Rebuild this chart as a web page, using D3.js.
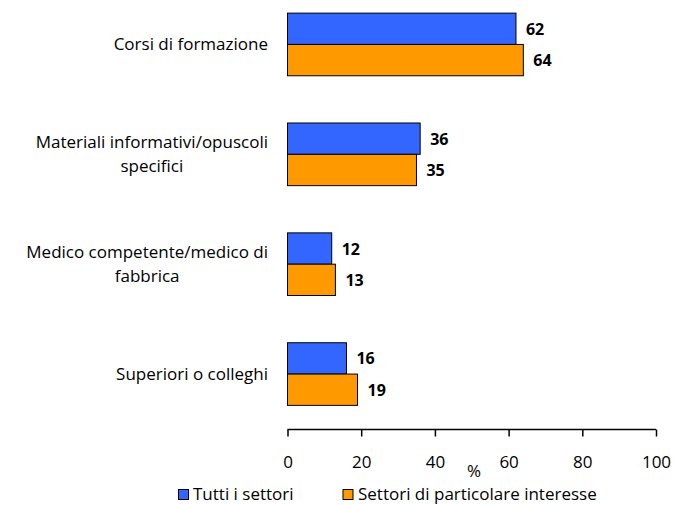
<!DOCTYPE html>
<html><head><meta charset="utf-8">
<script src="https://cdn.jsdelivr.net/npm/d3@7/dist/d3.min.js"></script>
<style>body{margin:0;background:#fff}svg{display:block}text{font-family:"Open Sans",sans-serif}</style>
</head><body><svg id="c" width="682" height="505"></svg>
<script>
const categories = [["Corsi di formazione"],["Materiali informativi/opuscoli","specifici"],["Medico competente/medico di","fabbrica"],["Superiori o colleghi"]];
const seriesNames = ["Tutti i settori","Settori di particolare interesse"];
const tutti = [62,36,12,16];
const settori = [64,35,13,19];
const xTicks = [0,20,40,60,80,100];
const colors = ["#3366FF","#FF9900"];

const svg = d3.select("#c");
const x = d3.scaleLinear().domain([0,100]).range([287.5,656]);
const y = d3.scaleBand().domain(d3.range(categories.length)).range([-10.5,429]).paddingInner(0.43).paddingOuter(0.215);
const sub = d3.scaleBand().domain([0,1]).range([0,y.bandwidth()]);

const data = [];
categories.forEach((c,i)=>{data.push({i,s:0,v:tutti[i]});data.push({i,s:1,v:settori[i]});});

svg.selectAll("rect.bar").data(data).join("rect").attr("class","bar")
  .attr("x",x(0)).attr("y",d=>y(d.i)+sub(d.s)).attr("width",d=>x(d.v)-x(0)).attr("height",sub.bandwidth())
  .attr("fill",d=>colors[d.s]).attr("stroke","#000").attr("stroke-width",1);

svg.selectAll("text.val").data(data).join("text").attr("class","val")
  .attr("x",d=>x(d.v)+10).attr("y",d=>y(d.i)+sub(d.s)+sub.bandwidth()/2+6)
  .attr("font-size",16).attr("font-weight","bold").text(d=>d.v);

const ax = svg.append("g").attr("transform","translate(0,429.5)")
  .call(d3.axisBottom(x).tickValues(xTicks).tickSize(7).tickFormat(d3.format("d")));
ax.select(".domain").attr("stroke","#000").attr("stroke-width",1.5).attr("d","M287.5,0H656");
ax.selectAll(".tick line").attr("stroke","#000").attr("stroke-width",1.5);
ax.selectAll(".tick text").attr("font-size",17).attr("font-family","Open Sans").attr("fill","#000").attr("dy",0).attr("y",38.5);

svg.append("text").attr("x",474).attr("y",477).attr("text-anchor","middle").attr("font-size",17).text("%");

// category labels
const right = 268;
categories.forEach((lines,i)=>{
  const cy = y(i)+y.bandwidth()/2;
  const g = svg.append("text").attr("font-size",17).attr("fill","#000");
  const lh = 24;
  const ts = lines.map((l,k)=>g.append("tspan").attr("y",cy+6+(k-(lines.length-1)/2)*lh).text(l));
  const widths = ts.map(t=>t.node().getComputedTextLength());
  const mw = d3.max(widths);
  const center = right - mw/2;
  ts.forEach(t=>t.attr("x",center).attr("text-anchor","middle"));
});

// legend
const leg = [{x:178.5,tx:193},{x:343,tx:358}];
seriesNames.forEach((n,k)=>{
  svg.append("rect").attr("x",leg[k].x).attr("y",489.5).attr("width",10).attr("height",10).attr("fill",colors[k]).attr("stroke","#000").attr("stroke-width",1);
  svg.append("text").attr("x",leg[k].tx).attr("y",500).attr("font-size",17).text(n);
});
</script></body></html>
